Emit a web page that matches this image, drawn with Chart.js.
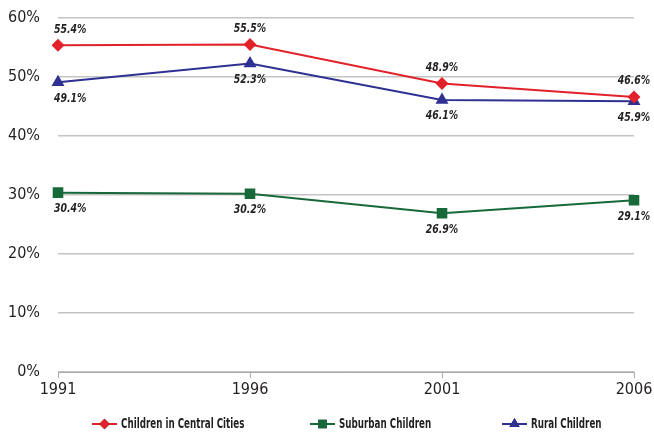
<!DOCTYPE html>
<html>
<head>
<meta charset="utf-8">
<script src="https://cdn.jsdelivr.net/npm/chart.js@4"></script>
<style>
  html, body { margin: 0; padding: 0; background: #fff; }
  #wrap { width: 654px; height: 433px; }
</style>
</head>
<body>
<div id="wrap"><canvas id="chart1" width="654" height="433"></canvas></div>
<script>
const FONT = '"Liberation Sans Narrow", "DejaVu Sans Condensed", "Arial Narrow", sans-serif';

// data
const years = ['1991', '1996', '2001', '2006'];
const centralCities = [55.4, 55.5, 48.9, 46.6];
const suburban = [30.4, 30.2, 26.9, 29.1];
const rural = [49.1, 52.3, 46.1, 45.9];
const yTicks = [0, 10, 20, 30, 40, 50, 60];

// label side for each series: -1 above, 1 below
const labelSide = [
    [-1, -1, -1, -1],
    [1, 1, 1, 1],
    [1, 1, 1, 1]
];

// squeeze text horizontally to look like the condensed face in the original
function narrowText(ctx, txt, x, y, align, squeeze) {
    const w = ctx.measureText(txt).width * squeeze;
    let left = x;
    if (align === 'center') left = x - w / 2;
    else if (align === 'right') left = x - w;
    ctx.save();
    ctx.translate(left, y);
    ctx.scale(squeeze, 1);
    ctx.textAlign = 'left';
    ctx.fillText(txt, 0, 0);
    ctx.restore();
}

const pointLabels = {
    id: 'pointLabels',
    afterDatasetsDraw(chart) {
        const ctx = chart.ctx;
        ctx.save();
        ctx.font = 'italic bold 13px ' + FONT;
        ctx.fillStyle = '#231f20';
        ctx.textBaseline = 'middle';
        chart.data.datasets.forEach((ds, i) => {
            const meta = chart.getDatasetMeta(i);
            meta.data.forEach((pt, j) => {
                const txt = ds.data[j].toFixed(1) + '%';
                let x = pt.x;
                let align = 'center';
                if (j === 0) { align = 'left'; x = pt.x - 4; }
                const y = pt.y + labelSide[i][j] * 16;
                narrowText(ctx, txt, x, y, align, 0.8);
            });
        });
        ctx.restore();
    }
};

// legend drawn with a line through the marker
const lineLegend = {
    id: 'lineLegend',
    afterDraw(chart) {
        const ctx = chart.ctx;
        const xs = [92, 310, 502];
        const y = 424;
        ctx.save();
        ctx.font = 'bold 13.5px ' + FONT;
        ctx.textBaseline = 'middle';
        chart.data.datasets.forEach((ds, i) => {
            const x = xs[i];
            ctx.strokeStyle = ds.borderColor;
            ctx.lineWidth = 2;
            ctx.beginPath();
            ctx.moveTo(x, y);
            ctx.lineTo(x + 25, y);
            ctx.stroke();
            Chart.helpers.drawPoint(ctx, {
                pointStyle: ds.pointStyle,
                radius: ds.pointRadius * 0.8,
                rotation: 0,
                borderWidth: 0
            }, x + 12.5, y);
            ctx.fillStyle = ds.borderColor;
            ctx.fill();
            ctx.fillStyle = '#231f20';
            narrowText(ctx, ds.label, x + 29, y, 'left', 0.72);
        });
        ctx.restore();
    }
};

const ctx1 = document.getElementById('chart1').getContext('2d');

const chart1 = new Chart(ctx1, {
    type: 'line',
    data: {
        labels: years,
        datasets: [{
            label: 'Children in Central Cities',
            data: centralCities,
            borderColor: '#e1222b',
            backgroundColor: '#e1222b',
            pointStyle: 'rectRot',
            pointRadius: 6.5,
            pointBorderWidth: 0,
            borderWidth: 2
        }, {
            label: 'Suburban Children',
            data: suburban,
            borderColor: '#17693a',
            backgroundColor: '#17693a',
            pointStyle: 'rect',
            pointRadius: 7.5,
            pointBorderWidth: 0,
            borderWidth: 2
        }, {
            label: 'Rural Children',
            data: rural,
            borderColor: '#2e3192',
            backgroundColor: '#2e3192',
            pointStyle: 'triangle',
            pointRadius: 7.5,
            pointBorderWidth: 0,
            borderWidth: 2
        }]
    },
    options: {
        responsive: false,
        animation: false,
        layout: {
            padding: { top: 18, right: 20, bottom: 33, left: 0 }
        },
        scales: {
            x: {
                offset: false,
                afterFit(axis) {
                    axis.height = 28;
                    axis.paddingLeft = 0;
                    axis.paddingRight = 0;
                },
                grid: {
                    drawOnChartArea: false,
                    drawTicks: true,
                    tickLength: 6,
                    color: '#aaaaaa'
                },
                border: { display: true, color: '#aaaaaa', width: 1 },
                ticks: {
                    color: '#231f20',
                    font: { family: FONT, size: 16 },
                    padding: 2,
                    maxRotation: 0
                }
            },
            y: {
                min: 0,
                max: 60,
                afterBuildTicks(axis) {
                    axis.ticks = yTicks.map(v => ({ value: v }));
                },
                afterFit(axis) {
                    axis.width = 58;
                    axis.paddingTop = 0;
                    axis.paddingBottom = 0;
                },
                grid: {
                    color: '#c4c4c4',
                    lineWidth: 1.5,
                    drawTicks: false
                },
                border: { display: false },
                ticks: {
                    color: '#231f20',
                    font: { family: FONT, size: 16 },
                    padding: 18,
                    callback: v => v + '%'
                }
            }
        },
        plugins: {
            legend: { display: false },
            tooltip: { enabled: false }
        }
    },
    plugins: [pointLabels, lineLegend]
});
</script>
</body>
</html>
